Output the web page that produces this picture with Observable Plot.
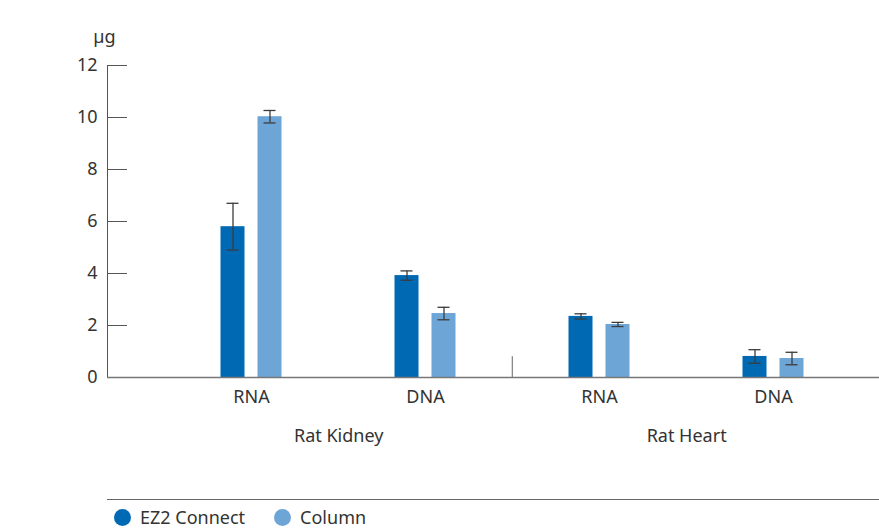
<!DOCTYPE html>
<html>
<head>
<meta charset="utf-8">
<script src="https://cdn.jsdelivr.net/npm/d3@7"></script>
<script src="https://cdn.jsdelivr.net/npm/@observablehq/plot@0.6"></script>
<style>
  html, body { margin: 0; padding: 0; background: #fff; }
  body { width: 879px; height: 530px; overflow: hidden; font-family: "Noto Sans", sans-serif; color: #333; }
  #legendRule { margin-left: 107px; margin-top: 9px; width: 772px; border-top: 1px solid #666; }
  #legend { display: flex; align-items: center; margin-left: 114px; margin-top: 6px; font-size: 18px; line-height: 22px; color: #333; }
  .item { display: flex; align-items: center; margin-right: 29px; }
  .sw { width: 17px; height: 17px; border-radius: 50%; margin-right: 9px; }
</style>
</head>
<body>
<div id="chart"></div>
<div id="legendRule"></div>
<div id="legend"></div>
<script>
const tissues = ["Rat Kidney", "Rat Kidney", "Rat Heart", "Rat Heart"];
const analytes = ["RNA", "DNA", "RNA", "DNA"];
const series = ["EZ2 Connect", "Column"];
const colors = ["#0069b4", "#6ea5d7"];
const ez2Values = [5.8, 3.92, 2.35, 0.81];
const ez2Errors = [0.9, 0.18, 0.1, 0.26];
const columnValues = [10.03, 2.46, 2.04, 0.73];
const columnErrors = [0.24, 0.24, 0.08, 0.24];
const yTicks = [0, 2, 4, 6, 8, 10, 12];

const keys = tissues.map((t, i) => t + "|" + analytes[i]);
const rows = [];
keys.forEach((k, i) => {
  rows.push({key: k, series: series[0], value: ez2Values[i], err: ez2Errors[i]});
  rows.push({key: k, series: series[1], value: columnValues[i], err: columnErrors[i]});
});

const W = 879, ML = 107, MR = 0;
const pInner = 0.8623, pOuter = 0.6457, align = 0.584;
const step = (W - ML - MR) / (keys.length - pInner + 2 * pOuter);
const off = 18.5;

const marks = [];
series.forEach((s, j) => {
  const data = rows.filter(d => d.series === s);
  const dx = j === 0 ? -off : off;
  marks.push(Plot.barY(data, {x: "key", y: "value", fill: colors[j], dx}));
  marks.push(Plot.ruleX(data, {x: "key", y1: d => d.value - d.err, y2: d => d.value + d.err, stroke: "#3c3c3c", strokeWidth: 1.3, dx}));
  marks.push(Plot.tickY(data, {x: "key", y: d => d.value + d.err, inset: 6, stroke: "#3c3c3c", strokeWidth: 1.3, dx}));
  marks.push(Plot.tickY(data, {x: "key", y: d => d.value - d.err, inset: 6, stroke: "#3c3c3c", strokeWidth: 1.3, dx}));
});

const chart = Plot.plot({
  width: W,
  height: 490,
  marginLeft: ML,
  marginRight: MR,
  marginTop: 65,
  marginBottom: 113,
  style: {fontFamily: "Noto Sans, sans-serif", fontSize: "18px", color: "#333", background: "#fff"},
  x: {domain: keys, paddingInner: pInner, paddingOuter: pOuter, align},
  y: {domain: [0, 12]},
  marks: [
    Plot.frame({anchor: "left", stroke: "#555"}),
    Plot.axisY({ticks: yTicks, tickSize: -20, tickPadding: 30, stroke: "#555", fill: "#333", fontSize: 18, label: null}),
    Plot.text(["µg"], {frameAnchor: "top-left", textAnchor: "middle", text: d => d, dx: -3, dy: -35, fontSize: 18, fill: "#333"}),
    Plot.axisX({tickSize: 0, tickPadding: 13, tickFormat: d => d.split("|")[1], fontSize: 18, fill: "#333", label: null}),
    Plot.text([keys[0], keys[2]], {x: d => d, text: d => d.split("|")[0], frameAnchor: "bottom", dx: step / 2, dy: 64, fontSize: 18, fill: "#333"}),
    Plot.ruleX([keys[2]], {x: d => d, y1: 0, y2: 0.8, dx: -step / 2, stroke: "#888", strokeWidth: 1.3}),
    ...marks,
    Plot.ruleY([0], {stroke: "#777", strokeWidth: 1.5})
  ]
});
document.getElementById("chart").appendChild(chart);

const legend = document.getElementById("legend");
series.forEach((s, j) => {
  const item = document.createElement("div");
  item.className = "item";
  const sw = document.createElement("div");
  sw.className = "sw";
  sw.style.background = colors[j];
  const label = document.createElement("span");
  label.textContent = s;
  item.appendChild(sw);
  item.appendChild(label);
  legend.appendChild(item);
});
</script>
</body>
</html>
